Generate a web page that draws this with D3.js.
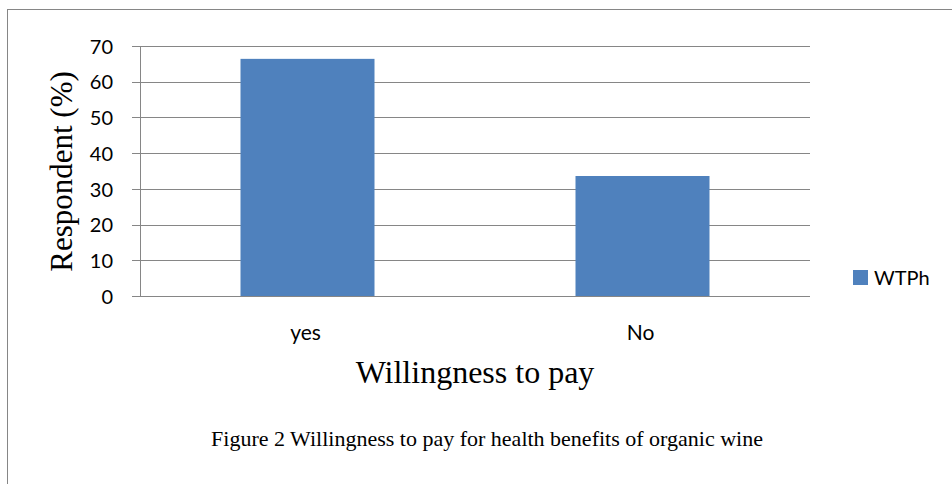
<!DOCTYPE html>
<html><head><meta charset="utf-8">
<script src="https://cdn.jsdelivr.net/npm/d3@7"></script>
<style>body{margin:0;background:#fff}svg{display:block}</style>
</head><body>
<script>
const categories = ["yes", "No"];
const values = [66.4, 33.6];
const yTicks = [0, 10, 20, 30, 40, 50, 60, 70];
const seriesName = "WTPh";
const yTitle = "Respondent (%)";
const xTitle = "Willingness to pay";
const caption = "Figure 2 Willingness to pay for health benefits of organic wine";

(function () {
const W = 952, H = 484;
const sans = "Lato, 'Open Sans', sans-serif";
const serif = "'Liberation Serif', 'Times New Roman', serif";
const svg = d3.select("body").append("svg").attr("width", W).attr("height", H);
svg.append("rect").attr("width", W).attr("height", H).attr("fill", "#fff");
svg.append("rect").attr("x", 7.5).attr("y", 9.5).attr("width", 960).attr("height", 500)
  .attr("fill", "none").attr("stroke", "#868686").attr("stroke-width", 1);

const pL = 140, pR = 810, pT = 46, pB = 296;
const x = d3.scaleBand().domain(categories).range([pL, pR]).paddingInner(0.6).paddingOuter(0.3);
const y = d3.scaleLinear().domain([0, 70]).range([pB, pT]);

const grid = svg.append("g");
grid.selectAll("line").data(yTicks).join("line")
  .attr("x1", pL - 8).attr("x2", pR)
  .attr("y1", d => Math.round(y(d)) + 0.5).attr("y2", d => Math.round(y(d)) + 0.5)
  .attr("stroke", "#868686").attr("stroke-width", 1);
svg.append("line").attr("x1", pL + 0.5).attr("x2", pL + 0.5).attr("y1", pT).attr("y2", pB + 0.5)
  .attr("stroke", "#868686");

const yAxis = d3.axisLeft(y).tickValues(yTicks).tickSize(0).tickPadding(0);
const ya = svg.append("g").attr("transform", `translate(${pL - 27},0)`).call(yAxis);
ya.select(".domain").remove();
ya.selectAll("text").attr("font-family", sans).attr("font-size", 20).attr("fill", "#000").attr("dy", "0.36em");

svg.append("g").selectAll("rect").data(values).join("rect")
  .attr("x", (d, i) => x(categories[i])).attr("width", x.bandwidth())
  .attr("y", d => y(d)).attr("height", d => y(0) - y(d))
  .attr("fill", "#4f81bd");

const xAxis = d3.axisBottom(x).tickSize(0).tickPadding(0);
const xa = svg.append("g").attr("transform", `translate(-2,${pB + 44})`).call(xAxis);
xa.select(".domain").remove();
xa.selectAll("text").attr("font-family", sans).attr("font-size", 21).attr("fill", "#000").attr("dy", 0);

svg.append("text").attr("transform", `translate(72,171.5) rotate(-90)`)
  .attr("text-anchor", "middle").attr("font-family", serif)
  .attr("font-size", 31).text(yTitle);

svg.append("text").attr("x", 475).attr("y", 383).attr("text-anchor", "middle")
  .attr("font-family", serif).attr("font-size", 32).text(xTitle);

svg.append("text").attr("x", 487).attr("y", 446).attr("text-anchor", "middle")
  .attr("font-family", serif).attr("font-size", 22).text(caption);

const lg = svg.append("g").attr("transform", "translate(853,270)");
lg.append("rect").attr("width", 15).attr("height", 15).attr("fill", "#4f81bd");
lg.append("text").attr("x", 21).attr("y", 15).attr("font-family", sans)
  .attr("font-size", 20).attr("fill", "#000").text(seriesName);
})();
</script>
</body></html>
